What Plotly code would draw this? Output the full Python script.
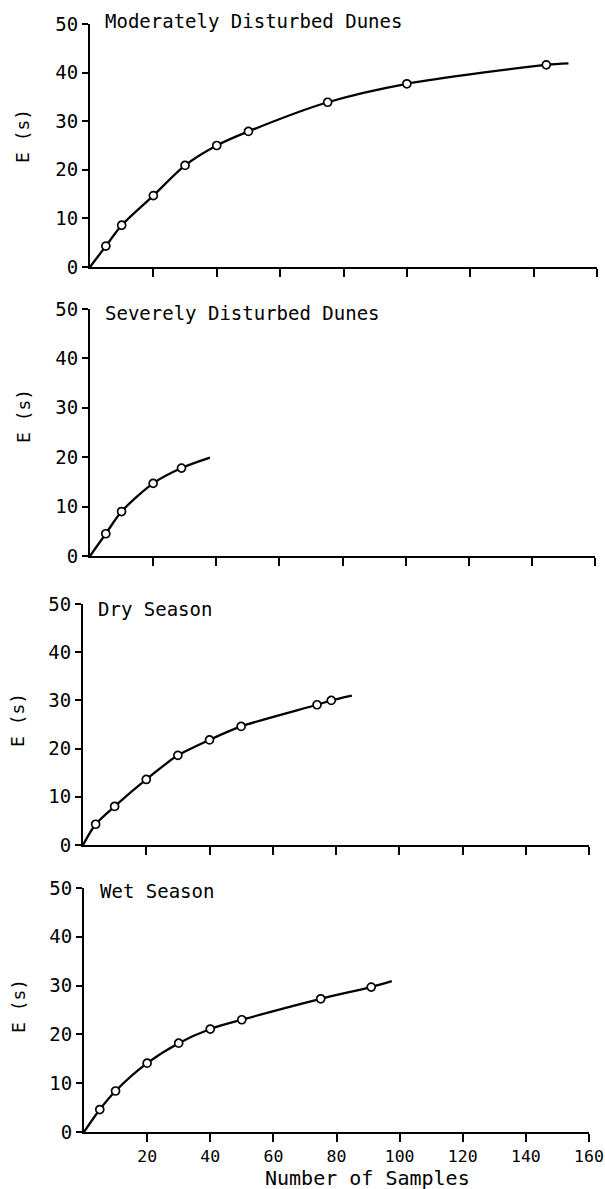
import plotly.graph_objects as go

OFF = 0                      # body margin removed by post_script below
VW, VH = 605, 1189           # viewport size
W, H = VW - OFF, VH - OFF

# ---- data ----
titles = ["Moderately Disturbed Dunes", "Severely Disturbed Dunes", "Dry Season", "Wet Season"]

mod_x = [5, 10, 20, 30, 40, 50, 75, 100, 144]
mod_y = [4.3, 8.6, 14.7, 20.9, 25.0, 27.9, 33.9, 37.7, 41.6]
mod_end = (151, 41.9)

sev_x = [5, 10, 20, 29]
sev_y = [4.5, 9.0, 14.7, 17.8]
sev_end = (38, 19.9)

dry_x = [4, 10, 20, 30, 40, 50, 74, 78.5]
dry_y = [4.3, 8.0, 13.6, 18.6, 21.8, 24.6, 29.1, 30.0]
dry_end = (85, 31.0)

wet_x = [5, 10, 20, 30, 40, 50, 75, 91]
wet_y = [4.6, 8.4, 14.1, 18.2, 21.1, 23.0, 27.3, 29.7]
wet_end = (97.5, 30.9)

x_ticks = [20, 40, 60, 80, 100, 120, 140, 160]
y_ticks = [0, 10, 20, 30, 40, 50]
x_title = "Number of Samples"
y_title = "E (s)"

series = [(mod_x, mod_y, mod_end), (sev_x, sev_y, sev_end),
          (dry_x, dry_y, dry_end), (wet_x, wet_y, wet_end)]

# ---- layout geometry (viewport pixels) ----
# (x0 px, x160 px, y0 px, y50 px)
boxes = [(90, 597, 267, 24), (90, 595, 556, 309), (83, 589, 845, 604), (84, 589, 1132, 888)]
title_pos = [(103, 21), (103, 313), (96, 609), (98, 891)]
ylab_pos = [(22, 136), (24, 416), (18, 720), (18, 1006)]


def fx(p):
    return (p - OFF) / W


def fy(p):
    return 1 - (p - OFF) / H


MONO = "DejaVu Sans Mono"
fig = go.Figure()
layout = dict(width=W, height=H, margin=dict(l=0, r=0, t=0, b=0, autoexpand=False),
              paper_bgcolor="white", plot_bgcolor="white", showlegend=False,
              annotations=[])

for i, ((xs, ys, end), (x0, x1, y0, y1)) in enumerate(zip(series, boxes)):
    n = "" if i == 0 else str(i + 1)
    xa, ya = "x" + n, "y" + n
    cx = [0] + list(xs) + [end[0]]
    cy = [0] + list(ys) + [end[1]]
    fig.add_trace(go.Scatter(x=cx, y=cy, mode="lines", xaxis=xa, yaxis=ya,
                             line=dict(color="black", width=2.3, shape="spline", smoothing=0.8),
                             hoverinfo="skip"))
    fig.add_trace(go.Scatter(x=xs, y=ys, mode="markers", xaxis=xa, yaxis=ya,
                             marker=dict(symbol="circle", size=8, color="white",
                                         line=dict(color="black", width=1.7))))
    last = i == 3
    layout["xaxis" + n] = dict(domain=[fx(x0), min(fx(x1), 1.0)], range=[0, 160], anchor=ya,
                               automargin=False, ticklabeloverflow="allow",
                               showgrid=False, zeroline=False, showline=True,
                               linecolor="black", linewidth=2, ticks="outside",
                               tickvals=x_ticks, ticklen=8, tickwidth=2, tickcolor="black",
                               showticklabels=last,
                               tickfont=dict(family=MONO, size=16.5, color="black"))
    layout["yaxis" + n] = dict(domain=[fy(y0), fy(y1)], range=[0, 50], anchor=xa,
                               automargin=False, ticklabeloverflow="allow",
                               showgrid=False, zeroline=False, showline=True,
                               linecolor="black", linewidth=2, ticks="outside",
                               tickvals=y_ticks, ticklen=6, tickwidth=2, tickcolor="black",
                               tickfont=dict(family=MONO, size=19, color="black"))
    tx, ty = title_pos[i]
    layout["annotations"].append(dict(text=titles[i], xref="paper", yref="paper",
                                      x=fx(tx), y=fy(ty), xanchor="left", yanchor="middle",
                                      showarrow=False,
                                      font=dict(family=MONO, size=19, color="black")))
    lx, ly = ylab_pos[i]
    layout["annotations"].append(dict(text=y_title, xref="paper", yref="paper",
                                      x=fx(lx), y=fy(ly), xanchor="center", yanchor="middle",
                                      textangle=-90, showarrow=False,
                                      font=dict(family=MONO, size=18, color="black")))

layout["annotations"].append(dict(text=x_title, xref="paper", yref="paper",
                                  x=fx(368), y=fy(1178), xanchor="center", yanchor="middle",
                                  showarrow=False,
                                  font=dict(family=MONO, size=20, color="black")))

fig.update_layout(**layout)
fig.write_html("out.html",
               config={"displayModeBar": False},
               post_script="document.body.style.margin='0px';"
                           "document.documentElement.style.overflow='hidden';")
